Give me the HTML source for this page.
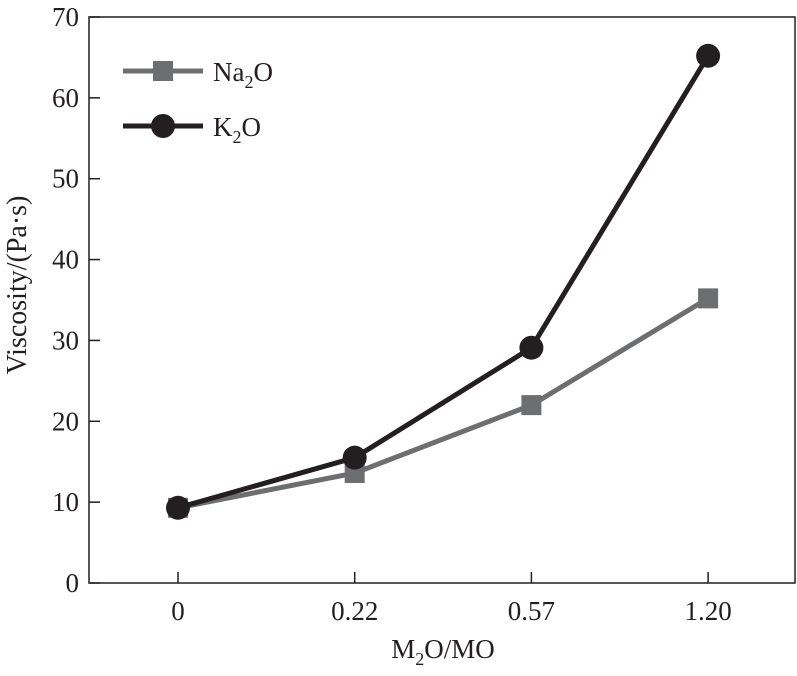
<!DOCTYPE html>
<html><head><meta charset="utf-8"><style>
html,body{margin:0;padding:0;background:#fff;}
svg{display:block;font-family:"Liberation Serif",serif;}
</style></head><body>
<svg id="chart" width="797" height="676"></svg>
<script>
const categories = ["0","0.22","0.57","1.20"];
const na2o = [9.3, 13.6, 22.0, 35.2];
const k2o = [9.3, 15.5, 29.1, 65.2];
const yTicks = [0,10,20,30,40,50,60,70];

const NS="http://www.w3.org/2000/svg";
const svg=document.getElementById('chart');
const L=89,R=795,T=17,B=583;
const x=i=>178+i*176.7;
const y=v=>B-(v/70)*(B-T);
function mk(tag,attrs,parent){const e=document.createElementNS(NS,tag);for(const k in attrs)e.setAttribute(k,attrs[k]);(parent||svg).appendChild(e);return e;}

const frame=mk('rect',{x:L,y:T,width:R-L,height:B-T,fill:'none',stroke:'#231f20','stroke-width':1.5});



yTicks.forEach(v=>{
  const t=mk('line',{x1:L,x2:L+11,y1:y(v),y2:y(v),stroke:'#231f20','stroke-width':1.5});
  
  
  const lb=mk('text',{x:L-10,y:y(v)+9,'text-anchor':'end','font-size':27,fill:'#231f20'});
  lb.textContent=v;
  
  
});
categories.forEach((c,i)=>{
  const t=mk('line',{x1:x(i),x2:x(i),y1:B,y2:B-11,stroke:'#231f20','stroke-width':1.5});
  
  
  const lb=mk('text',{x:x(i),y:B+37,'text-anchor':'middle','font-size':27,fill:'#231f20'});
  lb.textContent=c;
  
  
});

function series(vals,color,name,marker){
  const pl=mk('polyline',{points:vals.map((v,i)=>x(i)+','+y(v)).join(' '),fill:'none',stroke:color,'stroke-width':5});
  
  
  vals.forEach((v,i)=>{
    let m;
    if(marker==='sq') m=mk('rect',{x:x(i)-10,y:y(v)-10,width:20,height:20,fill:color});
    else m=mk('circle',{cx:x(i),cy:y(v),r:12,fill:color});
    
    
  });
}
series(na2o,'#6d6e70','na2o','sq');
series(k2o,'#231f20','k2o','ci');

const lg=mk('g',{});


mk('line',{x1:123,x2:203,y1:71,y2:71,stroke:'#6d6e70','stroke-width':5},lg);
mk('rect',{x:153,y:61,width:20,height:20,fill:'#6d6e70'},lg);
const t1=mk('text',{x:213,y:81,'font-size':27,fill:'#231f20'},lg);
t1.innerHTML='Na<tspan font-size="18" dy="7">2</tspan><tspan dy="-7">O</tspan>';


mk('line',{x1:123,x2:203,y1:126,y2:126,stroke:'#231f20','stroke-width':5},lg);
mk('circle',{cx:163,cy:126,r:12,fill:'#231f20'},lg);
const t2=mk('text',{x:213,y:136,'font-size':27,fill:'#231f20'},lg);
t2.innerHTML='K<tspan font-size="18" dy="7">2</tspan><tspan dy="-7">O</tspan>';



const xt=mk('text',{x:443,y:658,'text-anchor':'middle','font-size':27,fill:'#231f20'});
xt.innerHTML='M<tspan font-size="18" dy="7">2</tspan><tspan dy="-7">O/MO</tspan>';


const yt=mk('text',{x:0,y:0,'text-anchor':'middle','font-size':28,fill:'#231f20',transform:'translate(26,285) rotate(-90)'});
yt.textContent='Viscosity/(Pa·s)';


</script>
</body></html>
